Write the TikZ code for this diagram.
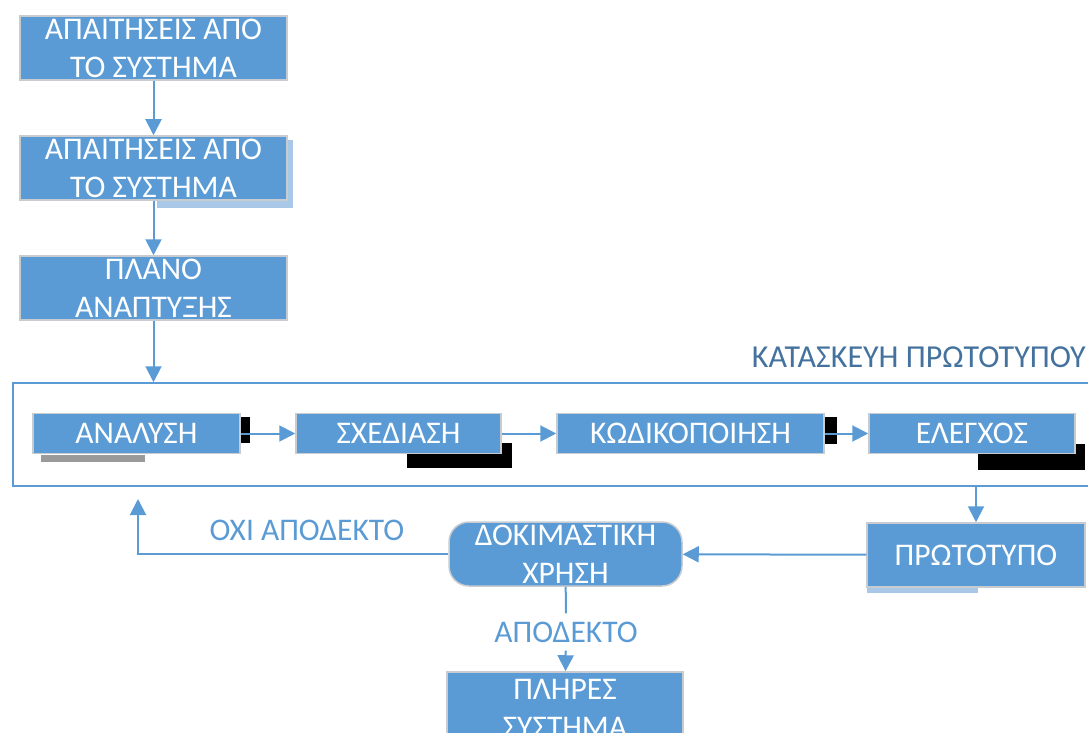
\documentclass[tikz,border=0pt]{standalone}
\usepackage{fontspec}
\setmainfont{Carlito}
\usetikzlibrary{arrows.meta}
\definecolor{boxblue}{HTML}{5B9BD5}
\definecolor{edgegrey}{HTML}{C8CCD0}
\definecolor{titleblue}{HTML}{44729E}
\definecolor{hatchblue}{HTML}{A9C8E8}
\definecolor{hatchgrey}{HTML}{9A9A9A}

\begin{document}
\begin{tikzpicture}[x=1pt,y=-1pt,
  stage/.style={draw=edgegrey,line width=1.5pt,fill=boxblue,text=white,
    font=\fontsize{31.5}{38}\selectfont,align=center,inner sep=0pt},
  link/.style={draw=boxblue,line width=2pt,-{Triangle[length=16pt,width=16pt]}},
  plain/.style={draw=boxblue,line width=2pt},
  note/.style={text=boxblue,font=\fontsize{31.5}{38}\selectfont,inner sep=0pt},
  smear/.style={fill=black}]
\useasboundingbox (0,0) rectangle (1088,733);
\clip (0,0) rectangle (1088,733);

% stray shadows left behind the boxes
\fill[hatchblue] (157,140) rectangle (293,208);
\fill[smear] (230,417) rectangle (250,443);
\fill[hatchgrey] (41,455) rectangle (145,462);
\fill[smear] (407,443) rectangle (512,468);
\fill[smear] (814,417) rectangle (837,444);
\fill[smear] (978,444) rectangle (1085,470);
\fill[hatchblue] (867,585) rectangle (978,593);

% requirement and planning column
\node[stage,minimum width=267pt,minimum height=64pt] (req1) at (153.5,48) {ΑΠΑΙΤΗΣΕΙΣ ΑΠΟ\\ΤΟ ΣΥΣΤΗΜΑ};
\node[stage,minimum width=267pt,minimum height=64pt] (req2) at (153.5,168) {ΑΠΑΙΤΗΣΕΙΣ ΑΠΟ\\ΤΟ ΣΥΣΤΗΜΑ};
\node[stage,minimum width=267pt,minimum height=64pt] (plan) at (153.5,288) {ΠΛΑΝΟ\\ΑΝΑΠΤΥΞΗΣ};

% prototype construction frame
\node[draw=boxblue,line width=1.5pt,minimum width=1097pt,minimum height=103pt,inner sep=0pt] (frame) at (561.5,434.5) {};
\node[anchor=east,text=titleblue,font=\fontsize{32}{38}\selectfont,inner sep=0pt] (title) at (1086,357) {ΚΑΤΑΣΚΕΥΗ ΠΡΩΤΟΤΥΠΟΥ};

\node[stage,minimum width=207pt,minimum height=40pt] (anal) at (136.5,433.5) {ΑΝΑΛΥΣΗ};
\node[stage,minimum width=205pt,minimum height=40pt] (design) at (398.5,433.5) {ΣΧΕΔΙΑΣΗ};
\node[stage,minimum width=267pt,minimum height=40pt] (code) at (690.5,433.5) {ΚΩΔΙΚΟΠΟΙΗΣΗ};
\node[stage,minimum width=206pt,minimum height=40pt] (check) at (972,433.5) {ΕΛΕΓΧΟΣ};

% prototype and trial use
\node[stage,minimum width=218pt,minimum height=64pt] (proto) at (976,555) {ΠΡΩΤΟΤΥΠΟ};
\node[stage,rounded corners=20pt,minimum width=233pt,minimum height=64pt] (trial) at (565.5,554) {ΔΟΚΙΜΑΣΤΙΚΗ\\ΧΡΗΣΗ};
\node[stage,minimum width=236pt,minimum height=72pt] (full) at (565,708) {ΠΛΗΡΕΣ\\ΣΥΣΤΗΜΑ};

\node[note] (reject) at (307,530) {ΟΧΙ ΑΠΟΔΕΚΤΟ};
\node[note,inner ysep=8pt] (accept) at (566,632) {ΑΠΟΔΕΚΤΟ};
\coordinate (back) at (138,499);

% connectors
\draw[link] (req1) -- (req2);
\draw[link] (req2) -- (plan);
\draw[link] (plan) -- (plan.south |- frame.north);
\draw[link] (anal) -- (design);
\draw[link] (design) -- (code);
\draw[link] (code) -- (check);
\draw[link] (proto.north |- frame.south) -- (proto);
\draw[link] (proto) -- (trial);
\draw[link] (trial.west) -| (back);
\draw[plain] (trial) -- (accept);
\draw[link] (accept) -- (full);
\end{tikzpicture}
\end{document}
